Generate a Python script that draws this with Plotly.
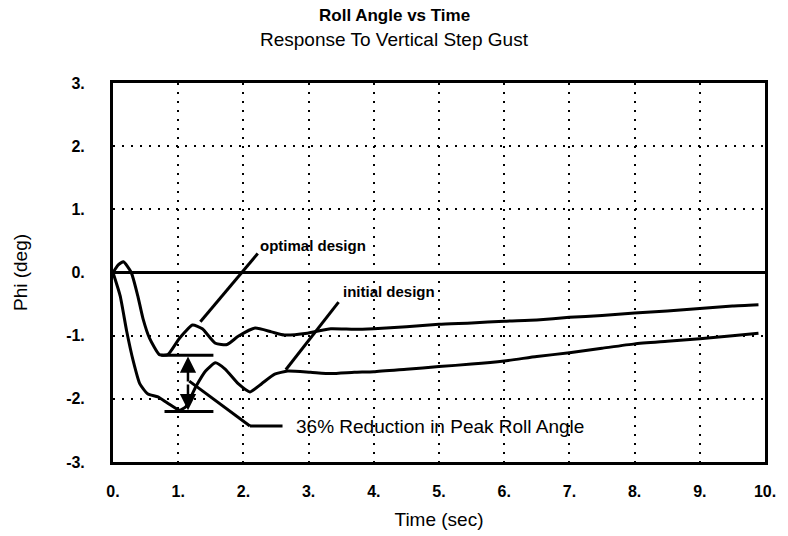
import plotly.graph_objects as go

# ---- data ----
time_optimal = [0, 0.08, 0.16, 0.28, 0.38, 0.46, 0.56, 0.71, 0.84, 1.02, 1.22, 1.37, 1.57, 1.75,
                1.92, 2.18, 2.43, 2.63, 2.98, 3.34, 3.7, 4.0, 4.5, 5.0, 5.5, 6.0, 6.5, 7.0, 7.5,
                8.0, 8.5, 9.0, 9.5, 9.9]
phi_optimal = [0, 0.12, 0.17, 0.0, -0.37, -0.73, -1.04, -1.30, -1.30, -1.04, -0.83, -0.89, -1.12, -1.14,
               -1.01, -0.88, -0.94, -0.99, -0.96, -0.89, -0.90, -0.89, -0.86, -0.82, -0.80, -0.77, -0.75, -0.71, -0.68,
               -0.64, -0.61, -0.57, -0.53, -0.51]

time_initial = [0, 0.11, 0.21, 0.31, 0.41, 0.53, 0.69, 0.84, 1.02, 1.12, 1.27, 1.42, 1.57, 1.72,
                1.92, 2.1, 2.28, 2.48, 2.68, 3.03, 3.34, 3.7, 4.0, 4.5, 5.0, 5.5, 6.0, 6.5, 7.0,
                7.5, 8.0, 8.5, 9.0, 9.5, 9.9]
phi_initial = [0, -0.37, -0.93, -1.40, -1.76, -1.92, -1.97, -2.07, -2.18, -2.12, -1.81, -1.56, -1.43, -1.53,
               -1.76, -1.89, -1.76, -1.61, -1.56, -1.58, -1.60, -1.58, -1.57, -1.53, -1.49, -1.45, -1.40, -1.33, -1.27,
               -1.20, -1.13, -1.09, -1.05, -1.00, -0.96]

x_tickvals = [0, 1, 2, 3, 4, 5, 6, 7, 8, 9, 10]
x_ticktext = ["0.", "1.", "2.", "3.", "4.", "5.", "6.", "7.", "8.", "9.", "10."]
y_tickvals = [-3, -2, -1, 0, 1, 2, 3]
y_ticktext = ["-3.", "-2.", "-1.", "0.", "1.", "2.", "3."]

FONT = "Arial, Liberation Sans, sans-serif"

fig = go.Figure()
fig.add_trace(go.Scatter(x=time_optimal, y=phi_optimal, mode="lines", name="optimal design",
                         line=dict(color="black", width=3, shape="spline", smoothing=0.5), hoverinfo="skip"))
fig.add_trace(go.Scatter(x=time_initial, y=phi_initial, mode="lines", name="initial design",
                         line=dict(color="black", width=3, shape="spline", smoothing=0.5), hoverinfo="skip"))

line_style = dict(color="black", width=3)
shapes = [
    # leader lines
    dict(type="line", x0=2.22, y0=0.3, x1=1.34, y1=-0.78, line=line_style),
    dict(type="line", x0=3.46, y0=-0.47, x1=2.65, y1=-1.54, line=line_style),
    # peak markers
    dict(type="line", x0=0.74, y0=-1.31, x1=1.54, y1=-1.31, line=line_style),
    dict(type="line", x0=0.79, y0=-2.2, x1=1.54, y1=-2.2, line=line_style),
    # reduction leader
    dict(type="line", x0=1.17, y0=-1.72, x1=2.1, y1=-2.43, line=line_style),
    dict(type="line", x0=2.1, y0=-2.43, x1=2.6, y1=-2.43, line=line_style),
]
for s in shapes:
    s.update(xref="x", yref="y")

annotations = [
    dict(x=0.4325, y=1.179, xref="paper", yref="paper", text="<b>Roll Angle vs Time</b>",
         showarrow=False, xanchor="center", yanchor="middle",
         font=dict(family=FONT, size=17, color="black")),
    dict(x=0.4325, y=1.116, xref="paper", yref="paper", text="Response To Vertical Step Gust",
         showarrow=False, xanchor="center", yanchor="middle",
         font=dict(family=FONT, size=19, color="black")),
    dict(x=2.22, y=0.43, text="<b>optimal design</b>", showarrow=False, xanchor="left",
         font=dict(family=FONT, size=15, color="black")),
    dict(x=3.5, y=-0.3, text="<b>initial design</b>", showarrow=False, xanchor="left",
         font=dict(family=FONT, size=15, color="black")),
    dict(x=2.78, y=-2.43, text="36% Reduction in Peak Roll Angle", showarrow=False, xanchor="left",
         font=dict(family=FONT, size=19, color="black")),
    # double arrow
    dict(x=1.15, y=-1.33, ax=1.15, ay=-1.75, xref="x", yref="y", axref="x", ayref="y",
         showarrow=True, arrowhead=2, arrowsize=1.3, arrowwidth=2.5, arrowcolor="black", text=""),
    dict(x=1.15, y=-2.18, ax=1.15, ay=-1.75, xref="x", yref="y", axref="x", ayref="y",
         showarrow=True, arrowhead=2, arrowsize=1.3, arrowwidth=2.5, arrowcolor="black", text=""),
]

axis_common = dict(
    showline=True, mirror=True, linecolor="black", linewidth=3, automargin=False,
    showgrid=True, gridcolor="black", gridwidth=2, griddash="2px,7px",
    ticks="", tickfont=dict(family=FONT, size=16, color="black", weight="bold"),
)

fig.update_layout(
    width=788, height=536,
    margin=dict(l=113, r=23, t=83, b=74),
    paper_bgcolor="white", plot_bgcolor="white",
    showlegend=False,
    font=dict(family=FONT, color="black"),
    xaxis=dict(range=[0, 10], tickvals=x_tickvals, ticktext=x_ticktext,
               zeroline=False, ticklabelstandoff=13,
               title=dict(text="Time (sec)", font=dict(family=FONT, size=19), standoff=14),
               **axis_common),
    yaxis=dict(range=[-3, 3], tickvals=y_tickvals, ticktext=y_ticktext,
               zeroline=True, zerolinecolor="black", zerolinewidth=3,
               ticklabelstandoff=22,
               title=dict(text="Phi (deg)", font=dict(family=FONT, size=19), standoff=34),
               **axis_common),
    shapes=shapes,
    annotations=annotations,
)

fig.write_html("out.html", config={"displayModeBar": False},
               post_script="document.body.style.margin='0';")
